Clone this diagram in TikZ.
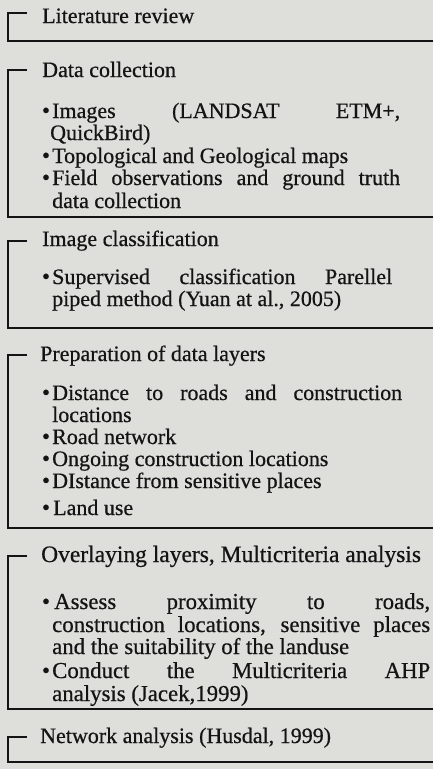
\documentclass[tikz,border=0pt]{standalone}
\usepackage{fontspec}
\setmainfont{Liberation Serif}[FakeBold=0.6]
\definecolor{paper}{RGB}{222,222,219}
\definecolor{ink}{RGB}{20,20,20}
\tikzset{
  frame/.style={draw=ink, line width=1.5pt, line join=miter},
  ttl/.style={anchor=base west, inner sep=0pt, text=ink, font=\fontsize{22}{23}\selectfont},
  txt/.style={anchor=base west, inner sep=0pt, text=ink, font=\fontsize{22}{23}\selectfont},
  txtb/.style={anchor=base west, inner sep=0pt, text=ink, font=\fontsize{22.8}{23}\selectfont},
  bul/.style={anchor=base, inner sep=0pt, text=ink, font=\fontsize{23}{23}\selectfont},
}
\newcommand\brk[2]{\draw[frame] (27,#1) -- (8,#1) -- (8,#2) -- (433,#2);}
\newcommand\jl[2]{\makebox[#1pt][s]{#2}}
\begin{document}
\begin{tikzpicture}[x=1pt,y=-1pt]
\useasboundingbox (0,0) rectangle (433,769);
\fill[paper] (0,0) rectangle (433,769);

% Box 1
\brk{13}{41}
\node[ttl] (t1) at (42,23) {Literature review};

% Box 2
\brk{70}{217}
\node[ttl] (t2) at (42,77) {Data collection};
\node[bul] (b21) at (46,118) {\textbullet};
\node[txt] (l21) at (52,118) {\jl{348}{Images (LANDSAT ETM+,}};
\node[txt] (l22) at (50,140) {QuickBird)};
\node[bul] (b22) at (46,163) {\textbullet};
\node[txt] (l23) at (52,163) {Topological and Geological maps};
\node[bul] (b23) at (46,185) {\textbullet};
\node[txt] (l24) at (52,185) {\jl{348}{Field observations and ground truth}};
\node[txt] (l25) at (52,208) {data collection};

% Box 3
\brk{241}{328}
\node[ttl] (t3) at (42,246) {Image classification};
\node[bul] (b31) at (46,284) {\textbullet};
\node[txt] (l31) at (52,284) {\jl{340}{Supervised classification Parellel}};
\node[txt] (l32) at (52,306) {piped method (Yuan at al., 2005)};

% Box 4
\brk{355}{528}
\node[ttl] (t4) at (40,361) {Preparation of data layers};
\node[bul] (b41) at (46,400) {\textbullet};
\node[txt] (l41) at (52,400) {\jl{350}{Distance to roads and construction}};
\node[txt] (l42) at (52,422) {locations};
\node[bul] (b42) at (46,444) {\textbullet};
\node[txt] (l43) at (52,444) {Road network};
\node[bul] (b43) at (46,466) {\textbullet};
\node[txt] (l44) at (52,466) {Ongoing construction locations};
\node[bul] (b44) at (46,488) {\textbullet};
\node[txt] (l45) at (52,488) {DIstance from sensitive places};
\node[bul] (b45) at (46,515) {\textbullet};
\node[txt] (l46) at (53,515) {Land use};

% Box 5
\brk{556}{709}
\node[txtb] (t5) at (41,562) {\fontsize{23.5}{23}\selectfont Overlaying layers, Multicriteria analysis};
\node[bul] (b51) at (46,609) {\textbullet};
\node[txtb] (l51) at (54,609) {\jl{376}{Assess proximity to roads,}};
\node[txtb] (l52) at (52,632) {\jl{378}{construction locations, sensitive places}};
\node[txtb] (l53) at (52,654) {and the suitability of the landuse};
\node[bul] (b52) at (46,678) {\textbullet};
\node[txtb] (l54) at (52,678) {\jl{378}{Conduct the Multicriteria AHP}};
\node[txtb] (l55) at (52,701) {analysis (Jacek,1999)};

% Box 6
\brk{737}{762}
\node[ttl] (t6) at (40,743) {Network analysis (Husdal, 1999)};
\end{tikzpicture}
\end{document}
